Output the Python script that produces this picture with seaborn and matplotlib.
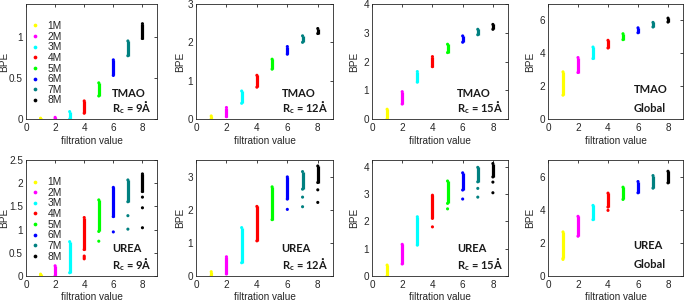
import numpy as np
import pandas as pd
import matplotlib
matplotlib.use("Agg")
import matplotlib.pyplot as plt
import seaborn as sns
from matplotlib.ticker import FuncFormatter

sns.set_style("white")
plt.rcParams['font.family'] = ['Liberation Sans', 'DejaVu Sans']
plt.rcParams['mathtext.fontset'] = 'custom'
plt.rcParams['mathtext.rm'] = 'Lato'
plt.rcParams['mathtext.bf'] = 'Lato:bold'

# ---- data ----
filtration = [1, 2, 3, 4, 5, 6, 7, 8]
conc = ["1M", "2M", "3M", "4M", "5M", "6M", "7M", "8M"]
colors = ["#ffff00", "#ff00ff", "#00ffff", "#ff0000", "#00ff00", "#0000ff", "#008080", "#000000"]

# strip ranges (low, high) of BPE per filtration value
tmao_9_lo = [0.00, 0.00, 0.00, 0.07, 0.28, 0.53, 0.77, 0.98]
tmao_9_hi = [0.01, 0.02, 0.09, 0.22, 0.44, 0.72, 0.95, 1.16]
tmao_12_lo = [0.00, 0.06, 0.41, 0.83, 1.30, 1.69, 2.00, 2.23]
tmao_12_hi = [0.08, 0.30, 0.73, 1.14, 1.56, 1.89, 2.17, 2.36]
tmao_15_lo = [0.00, 0.52, 1.28, 1.82, 2.31, 2.67, 2.93, 3.12]
tmao_15_hi = [0.34, 0.95, 1.65, 2.17, 2.60, 2.89, 3.12, 3.29]
tmao_gl_lo = [1.45, 2.83, 3.68, 4.32, 4.83, 5.25, 5.60, 5.90]
tmao_gl_hi = [2.87, 3.74, 4.38, 4.79, 5.19, 5.55, 5.88, 6.14]

urea_9_lo = [0.00, 0.00, 0.07, 0.57, 0.96, 1.28, 1.60, 1.82]
urea_9_hi = [0.04, 0.22, 0.74, 1.26, 1.64, 1.91, 2.07, 2.20]
urea_12_lo = [0.00, 0.06, 0.40, 1.06, 1.70, 2.32, 2.62, 2.82]
urea_12_hi = [0.13, 0.58, 1.46, 2.10, 2.69, 2.99, 3.15, 3.32]
urea_15_lo = [0.00, 0.44, 1.13, 2.11, 2.66, 3.15, 3.45, 3.63]
urea_15_hi = [0.40, 1.16, 2.17, 2.96, 3.48, 3.78, 3.98, 4.12]
urea_gl_lo = [1.06, 2.40, 3.40, 4.16, 4.62, 5.02, 5.30, 5.62]
urea_gl_hi = [2.66, 3.60, 4.26, 5.00, 5.36, 5.70, 6.06, 6.32]

# isolated points (filtration value, BPE)
urea_9_x = [4, 4, 4, 5, 6, 7, 7, 8, 8, 8]
urea_9_y = [0.43, 0.40, 0.37, 0.75, 0.95, 1.30, 1.01, 1.70, 1.47, 1.04]
urea_12_x = [6, 7, 7, 8, 8]
urea_12_y = [2.01, 2.38, 2.09, 2.60, 2.22]
urea_15_x = [4, 5, 6, 7, 7, 8, 8]
urea_15_y = [1.80, 2.46, 2.82, 3.21, 2.89, 3.44, 3.05]
urea_gl_x = [1, 4]
urea_gl_y = [1.00, 3.96]

panels = [
    dict(lo=tmao_9_lo, hi=tmao_9_hi, px=[], py=[], ylim=1.4, yt=[0, 0.5, 1], l1="TMAO", l2=r"$\mathbf{R_c}$ = 9Å", tx=0.655, ty1=0.225, legend=True, yl=17),
    dict(lo=tmao_12_lo, hi=tmao_12_hi, px=[], py=[], ylim=3, yt=[0, 1, 2, 3], l1="TMAO", l2=r"$\mathbf{R_c}$ = 12Å", tx=0.625, ty1=0.225, legend=False, yl=11),
    dict(lo=tmao_15_lo, hi=tmao_15_hi, px=[], py=[], ylim=4, yt=[0, 1, 2, 3, 4], l1="TMAO", l2=r"$\mathbf{R_c}$ = 15Å", tx=0.625, ty1=0.225, legend=False, yl=13),
    dict(lo=tmao_gl_lo, hi=tmao_gl_hi, px=[], py=[], ylim=7, yt=[0, 2, 4, 6], l1="TMAO", l2="Global", tx=0.635, ty1=0.255, legend=False, yl=13),
    dict(lo=urea_9_lo, hi=urea_9_hi, px=urea_9_x, py=urea_9_y, ylim=2.5, yt=[0, 0.5, 1, 1.5, 2, 2.5], l1="UREA", l2=r"$\mathbf{R_c}$ = 9Å", tx=0.655, ty1=0.235, legend=True, yl=16.5),
    dict(lo=urea_12_lo, hi=urea_12_hi, px=urea_12_x, py=urea_12_y, ylim=3.5, yt=[0, 1, 2, 3], l1="UREA", l2=r"$\mathbf{R_c}$ = 12Å", tx=0.625, ty1=0.235, legend=False, yl=11),
    dict(lo=urea_15_lo, hi=urea_15_hi, px=urea_15_x, py=urea_15_y, ylim=4.25, yt=[0, 1, 2, 3, 4], l1="UREA", l2=r"$\mathbf{R_c}$ = 15Å", tx=0.625, ty1=0.235, legend=False, yl=13),
    dict(lo=urea_gl_lo, hi=urea_gl_hi, px=urea_gl_x, py=urea_gl_y, ylim=7, yt=[0, 2, 4, 6], l1="UREA", l2="Global", tx=0.635, ty1=0.26, legend=False, yl=13),
]

W, H = 685, 302
fig = plt.figure(figsize=(W / 100, H / 100), dpi=100)
cols = [(26, 157), (196, 333), (372, 508), (548, 683)]
rows = [(4, 119), (160, 276)]
pal = dict(zip(conc, colors))
axc = "#262626"
fs = 7.2

for i, p in enumerate(panels):
    r, c = divmod(i, 4)
    l, rr = cols[c]
    t, b = rows[r]
    wpx, hpx = rr - l, b - t
    ax = fig.add_axes([l / W, (H - b) / H, wpx / W, hpx / H])
    # strips
    ax.vlines(filtration, p["lo"], p["hi"], colors=colors, linewidth=2.3, zorder=2)
    # points: strip ends plus isolated points
    xs = filtration + filtration + list(p["px"])
    ys = list(p["lo"]) + list(p["hi"]) + list(p["py"])
    hue = conc + conc + [conc[x - 1] for x in p["px"]]
    df = pd.DataFrame({"x": xs, "y": ys, "c": hue})
    sns.scatterplot(data=df, x="x", y="y", hue="c", hue_order=conc, palette=pal,
                    s=5, linewidth=0, ax=ax, legend=p["legend"], zorder=3)
    if p["legend"]:
        ax.legend(loc="upper left", bbox_to_anchor=(0.0, 0.905), frameon=False,
                  fontsize=7.4, labelspacing=0.06, handlelength=0.5, handletextpad=1.0,
                  borderaxespad=0.2, markerscale=1.2, labelcolor=axc)
    ax.set_xlim(0, 9)
    ax.set_ylim(0, p["ylim"])
    ax.set_xticks([0, 2, 4, 6, 8])
    ax.set_yticks(p["yt"])
    ax.yaxis.set_major_formatter(FuncFormatter(lambda v, pos: f"{v:g}"))
    ax.tick_params(direction="in", length=2.2, width=0.6, labelsize=fs, colors=axc,
                   top=True, right=True)
    ax.tick_params(axis="x", pad=3)
    ax.tick_params(axis="y", pad=2.2)
    for s in ax.spines.values():
        s.set_color(axc)
        s.set_linewidth(0.6)
    ax.set_xlabel("filtration value", fontsize=fs, color=axc)
    ax.set_ylabel("BPE", fontsize=fs, color=axc)
    ax.yaxis.set_label_coords(-p["yl"] / wpx, 0.5)
    ax.xaxis.set_label_coords(0.5, -(17 if r == 0 else 16) / hpx)
    ax.text(p["tx"], p["ty1"], p["l1"], transform=ax.transAxes, fontsize=8,
            fontweight="bold", family="Lato", color="#1a1a1a", va="center", ha="left")
    ax.text(p["tx"], 0.095, p["l2"], transform=ax.transAxes, fontsize=8,
            fontweight="bold", family="Lato", color="#1a1a1a", va="center", ha="left")

fig.savefig("out.png", dpi=100)
